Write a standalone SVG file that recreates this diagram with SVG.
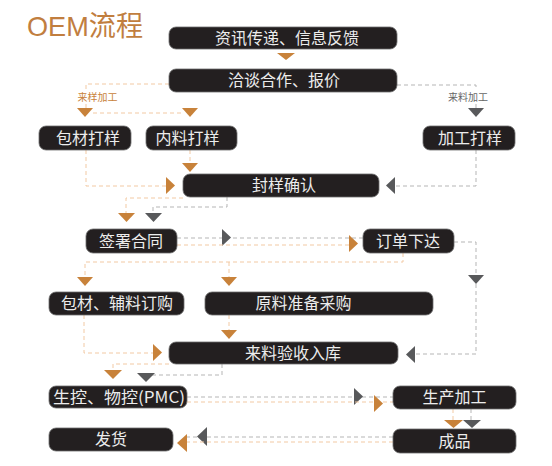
<svg xmlns="http://www.w3.org/2000/svg" width="552" height="466" viewBox="0 0 552 466">
<style>
.box{fill:#231f20;stroke:#6d6d6d;stroke-width:0.8}
.t{fill:#ececec;font-family:"Noto Sans CJK SC","Liberation Sans",sans-serif;font-size:16px;text-anchor:middle}
.o{fill:none;stroke:#f2c9a3;stroke-width:1;stroke-dasharray:4 3}
.g{fill:none;stroke:#b5b5b5;stroke-width:1;stroke-dasharray:4 3}
.to{fill:#c8823a}
.tg{fill:#58595b}
.lbl{font-family:"Noto Sans CJK SC",sans-serif;font-size:10px;text-anchor:middle}
</style>
<rect width="552" height="466" fill="#ffffff"/>
<text x="27" y="36" font-family="Liberation Sans,'Noto Sans CJK SC',sans-serif" font-size="28" fill="#c17e3f" textLength="116" lengthAdjust="spacingAndGlyphs">OEM流程</text>

<g id="connectors">
  <path class="to" d="M277,53 H295 L286,60 Z"/>
  <!-- 来样加工 -->
  <path class="o" d="M169,84 H86 V90 M86,104 V108 M93,113 H182"/>
  <text class="lbl" x="97.5" y="101" fill="#c8823a">来样加工</text>
  <path class="to" d="M77,108 H93 L85,117 Z"/>
  <path class="to" d="M182,108 H198 L190,117 Z"/>
  <!-- 来料加工 -->
  <path class="g" d="M397,85 H476 V89 M476,104 V108"/>
  <text class="lbl" x="468" y="101" fill="#666666">来料加工</text>
  <path class="tg" d="M468,108 H484 L476,117 Z"/>
  <!-- to 封样确认 -->
  <path class="o" d="M86,150 V186 H166"/>
  <path class="to" d="M166,177 V194 L175,185.5 Z"/>
  <path class="o" d="M190,150 V163"/>
  <path class="to" d="M182,163 H198 L190,172 Z"/>
  <path class="g" d="M476,150 V186 H395"/>
  <path class="tg" d="M395,177 V194 L386,185.5 Z"/>
  <!-- to 签署合同 -->
  <path class="o" d="M183,198 H126 V213"/>
  <path class="to" d="M118,213 H135 L126.5,222 Z"/>
  <path class="g" d="M227,197 V207 H153 V213"/>
  <path class="tg" d="M145,213 H162 L153.5,222 Z"/>
  <!-- 签署合同 to 订单下达 -->
  <path class="g" d="M177,238 H363"/>
  <path class="tg" d="M222,229 V246 L231,237.5 Z"/>
  <path class="o" d="M177,245 H349"/>
  <path class="to" d="M349,235 V252 L358,243.5 Z"/>
  <!-- 订单下达 down -->
  <path class="o" d="M403,253 V262 H85 V277 M229,262 V277"/>
  <path class="to" d="M77,277 H93 L85,286 Z"/>
  <path class="to" d="M221,277 H237 L229,286 Z"/>
  <path class="g" d="M454,242 H476 V275 M476,284 V354 H415"/>
  <path class="tg" d="M468,275 H484 L476,284 Z"/>
  <path class="tg" d="M415,346 V363 L406,354.5 Z"/>
  <!-- to 来料验收入库 -->
  <path class="o" d="M84,315 V353 H153"/>
  <path class="to" d="M153,344 V361 L162,352.5 Z"/>
  <path class="o" d="M229,315 V330"/>
  <path class="to" d="M221,330 H237 L229,339 Z"/>
  <!-- to 生控 -->
  <path class="o" d="M169,364 H113 V370"/>
  <path class="to" d="M104,370 H122 L113,379 Z"/>
  <path class="g" d="M222,364 V375 H146"/>
  <path class="tg" d="M137,373 H155 L146,382 Z"/>
  <!-- 生控 to 生产加工 -->
  <path class="g" d="M187,397 H393"/>
  <path class="tg" d="M354,388 V405 L363,396.5 Z"/>
  <path class="o" d="M187,402 H393"/>
  <path class="to" d="M374,395 V412 L383,403.5 Z"/>
  <!-- 生产加工 to 成品 -->
  <path class="o" d="M453,409 V420"/>
  <path class="g" d="M471,409 V420"/>
  <path class="to" d="M444,420 H463 L453.5,428 Z"/>
  <path class="tg" d="M463,420 H481 L472,428 Z"/>
  <!-- 成品 to 发货 -->
  <path class="g" d="M393,437 H187"/>
  <path class="tg" d="M207,427 V446 L197,436.5 Z"/>
  <path class="o" d="M393,442 H187"/>
  <path class="to" d="M187,434 V452 L177,443 Z"/>
</g>

<g id="n1"><rect class="box" x="169" y="27" width="228" height="22" rx="7"/><text class="t" x="287" y="43.5">资讯传递、信息反馈</text></g>
<g id="n2"><rect class="box" x="169" y="69" width="228" height="23" rx="7"/><text class="t" x="284" y="86">洽谈合作、报价</text></g>
<g id="n3"><rect class="box" x="39" y="126" width="92" height="24" rx="7"/><text class="t" x="88" y="143.5">包材打样</text></g>
<g id="n4"><rect class="box" x="146" y="126" width="91" height="24" rx="7"/><text class="t" x="187.5" y="143.5">内料打样</text></g>
<g id="n5"><rect class="box" x="423" y="126" width="92" height="24" rx="7"/><text class="t" x="470" y="143.5">加工打样</text></g>
<g id="n6"><rect class="box" x="183" y="174" width="196" height="23" rx="7"/><text class="t" x="284" y="191">封样确认</text></g>
<g id="n7"><rect class="box" x="86" y="229" width="91" height="24" rx="7"/><text class="t" x="131" y="246.5">签署合同</text></g>
<g id="n8"><rect class="box" x="363" y="229" width="91" height="24" rx="7"/><text class="t" x="408" y="246.5">订单下达</text></g>
<g id="n9"><rect class="box" x="49" y="292" width="135" height="23" rx="7"/><text class="t" x="117" y="309">包材、辅料订购</text></g>
<g id="n10"><rect class="box" x="205" y="292" width="228" height="23" rx="7"/><text class="t" x="303.5" y="309">原料准备采购</text></g>
<g id="n11"><rect class="box" x="169" y="342" width="229" height="22" rx="7"/><text class="t" x="293" y="358.5">来料验收入库</text></g>
<g id="n12"><rect class="box" x="49" y="386" width="138" height="22" rx="7"/><text class="t" x="119" y="402.5" textLength="132" lengthAdjust="spacingAndGlyphs">生控、物控(PMC)</text></g>
<g id="n13"><rect class="box" x="393" y="386" width="123" height="23" rx="7"/><text class="t" x="454.5" y="403">生产加工</text></g>
<g id="n14"><rect class="box" x="393" y="429" width="123" height="24" rx="7"/><text class="t" x="454.5" y="446.5">成品</text></g>
<g id="n15"><rect class="box" x="49" y="428" width="124" height="23" rx="7"/><text class="t" x="111" y="445">发货</text></g>
</svg>
